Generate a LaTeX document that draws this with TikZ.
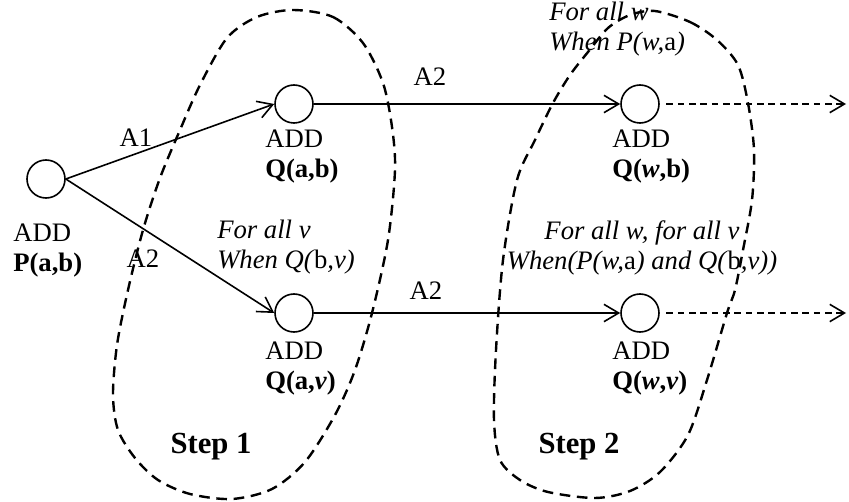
\documentclass[tikz,border=0pt]{standalone}
\usepackage{fontspec}
\setmainfont{Liberation Serif}
\usetikzlibrary{arrows.meta}

\begin{document}
\begin{tikzpicture}[x=0.75pt, y=-0.75pt,  % pixel grid, y downwards
		every node/.style={font=\fontsize{20}{22.5}\selectfont, inner sep=0pt},
		op/.style={draw, circle, line width=1.2pt, minimum size=28.5pt},
		lbl/.style={align=left, anchor=north west},
		cond/.style={font=\fontsize{20}{22.5}\selectfont\itshape},
		steplbl/.style={font=\fontsize{23}{26}\selectfont\bfseries},
		arr/.style={line width=1.2pt, -{Straight Barb[length=11pt,width=13pt]}},
		farr/.style={arr, dash pattern=on 5pt off 3.5pt},
		region/.style={line width=1.8pt, dash pattern=on 8pt off 5pt}]
	\useasboundingbox (0,0) rectangle (849,502);
	% operations
	\node[op] (p) at (46,179) {};
	\node[op] (qab) at (294,104) {};
	\node[op] (qwb) at (640,104) {};
	\node[op] (qav) at (294,313) {};
	\node[op] (qwv) at (640,313) {};
	\node[lbl] (pl) at (13,224) {ADD\\\textbf{P(a,b)}};
	\node[lbl] (qabl) at (265,130) {ADD\\\textbf{Q(a,b)}};
	\node[lbl] (qwbl) at (612,130) {ADD\\\textbf{Q(\textit{w},b)}};
	\node[lbl] (qavl) at (265,342) {ADD\\\textbf{Q(a,\textit{v})}};
	\node[lbl] (qwvl) at (612,342) {ADD\\\textbf{Q(\textit{w},\textit{v})}};
	% rules
	\draw[arr] (p.east) -- (qab.west);
	\draw[arr] (p.east) -- (qav.west);
	\draw[arr] (qab.east) -- (qwb.west);
	\draw[arr] (qav.east) -- (qwv.west);
	\node (a1) at (136,138) {A1};
	\node (a2p) at (143,259) {A2};
	\node (a2b) at (430,77) {A2};
	\node (a2v) at (426,291) {A2};
	\coordinate (e1) at (846,104);
	\coordinate (e2) at (846,313);
	\draw[farr] ([xshift=5pt]qwb.east) -- (e1);
	\draw[farr] ([xshift=5pt]qwv.east) -- (e2);
	% conditions
	\node[cond, lbl] (c1) at (217,220) {For all v\\When Q(\textup{b},v)};
	\node[cond, lbl] (c2) at (549,2) {For all w\\When P(w,\textup{a})};
	\node[cond, align=center, anchor=north] (c3) at (642,220) {For all w, for all v\\When(P(w,\textup{a}) and Q(\textup{b},v))};
	% steps
	\draw[region] plot[smooth cycle] coordinates {(293,10) (333,17) (363,43) (383,83) (392,127) (395,170) (388,240) (372,313) (355,370) (335,415) (305,462) (272,489) (232,499) (190,494) (158,480) (135,458) (118,430) (113,395) (117,345) (128,290) (143,230) (160,178) (180,130) (200,85) (227,38) (257,17)};
	\draw[region] plot[smooth cycle] coordinates {(655,11) (690,22) (717,40) (738,65) (748,103) (754,150) (752,200) (743,250) (735,290) (727,313) (707,380) (688,435) (660,472) (630,491) (595,498) (548,492) (520,480) (500,460) (494,420) (496,350) (503,260) (517,180) (535,140) (553,103) (570,75) (588,52) (608,28) (630,15)};
	\node[steplbl] (s1) at (211,447) {Step 1};
	\node[steplbl] (s2) at (579,447) {Step 2};
\end{tikzpicture}
\end{document}
